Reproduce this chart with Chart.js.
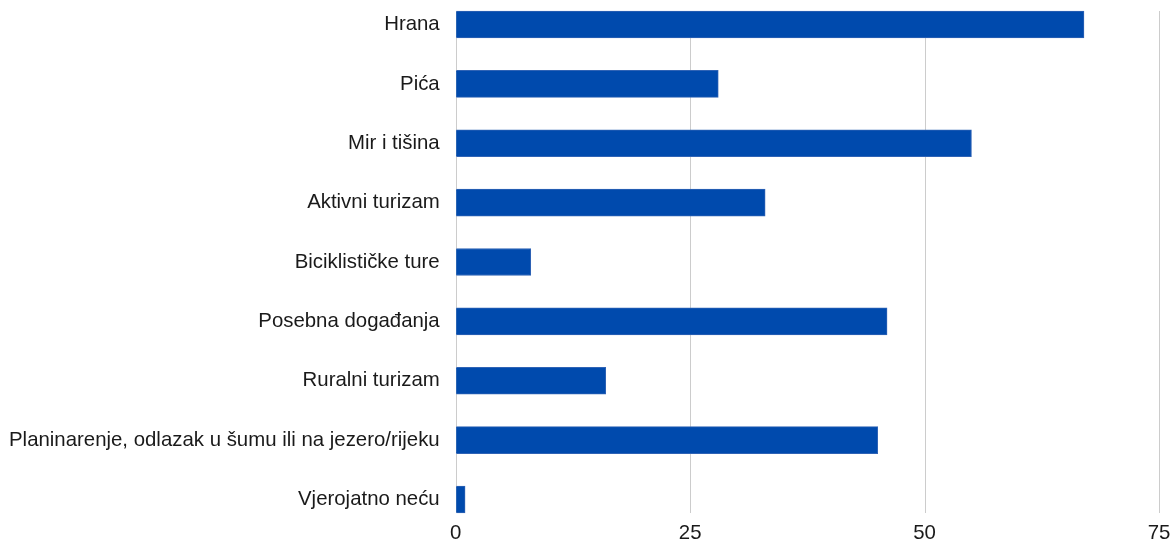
<!DOCTYPE html>
<html>
<head>
<meta charset="utf-8">
<script src="https://cdn.jsdelivr.net/npm/chart.js@4"></script>
<style>
	html, body { margin: 0; padding: 0; background: #fff; }
	#wrap { width: 1173px; height: 542px; position: relative; }
</style>
</head>
<body>
<div id="wrap"><canvas id="chart"></canvas></div>
<script>
const categories = [
	"Hrana",
	"Pića",
	"Mir i tišina",
	"Aktivni turizam",
	"Biciklističke ture",
	"Posebna događanja",
	"Ruralni turizam",
	"Planinarenje, odlazak u šumu ili na jezero/rijeku",
	"Vjerojatno neću"
];
const values = [67, 28, 55, 33, 8, 46, 16, 45, 1];
const xTicks = [0, 25, 50, 75];

const barThickness = 27;

// grid lines only span from the first bar's top to the last bar's bottom
const gridPlugin = {
	id: 'shortGrid',
	beforeDatasetsDraw(chart) {
		const { ctx, scales: { x, y } } = chart;
		const top = y.getPixelForValue(0) - barThickness / 2;
		const bottom = y.getPixelForValue(categories.length - 1) + barThickness / 2;
		ctx.save();
		ctx.strokeStyle = '#cccccc';
		ctx.lineWidth = 1;
		xTicks.forEach(t => {
			const px = Math.round(x.getPixelForValue(t)) + 0.5;
			ctx.beginPath();
			ctx.moveTo(px, top);
			ctx.lineTo(px, bottom);
			ctx.stroke();
		});
		ctx.restore();
	}
};

new Chart(document.getElementById('chart'), {
	type: 'bar',
	data: {
		labels: categories,
		datasets: [{
			data: values,
			backgroundColor: '#004aad',
			borderColor: '#2f63b5',
			borderWidth: 1,
			barThickness: barThickness,
			clip: false,
		}]
	},
	options: {
		indexAxis: 'y',
		responsive: true,
		maintainAspectRatio: false,
		animation: false,
		layout: {
			padding: { top: 24.5, right: 14, bottom: 0, left: 9 }
		},
		plugins: {
			legend: { display: false },
			tooltip: { enabled: false },
		},
		scales: {
			x: {
				min: 0,
				max: 75,
				afterBuildTicks: axis => { axis.ticks = xTicks.map(v => ({ value: v })); },
				// invisible tick marks just make room above the labels
				grid: { color: 'transparent', drawOnChartArea: false, tickLength: 25.5 },
				border: { display: false },
				ticks: {
					padding: 0,
					color: '#1a1a1a',
					font: { family: 'Liberation Sans', size: 20.4, lineHeight: 0.833 },
				},
			},
			y: {
				offset: false,
				grid: { color: 'transparent', drawOnChartArea: false, tickLength: 16 },
				border: { display: false },
				ticks: {
					padding: 0,
					color: '#1a1a1a',
					font: { family: 'Liberation Sans', size: 20.4, lineHeight: 1 },
				},
			}
		}
	},
	plugins: [gridPlugin],
});
</script>
</body>
</html>
